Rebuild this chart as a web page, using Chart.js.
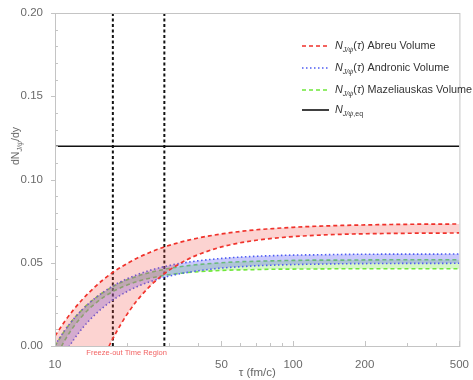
<!DOCTYPE html>
<html>
<head>
<meta charset="utf-8">
<script src="https://cdn.jsdelivr.net/npm/chart.js@4/dist/chart.umd.min.js"></script>
<style>
  body { margin: 0; background: #fff; }
  #wrap { position: relative; width: 473px; height: 380px; overflow: hidden; font-family: "Liberation Sans", Arial, sans-serif; }
  #ytitle { position: absolute; left: 16px; top: 146px; transform: translate(-50%, -50%) rotate(-90deg);
            font-size: 10.5px; color: #666; white-space: nowrap; }
  #ytitle sub { font-size: 7px; font-style: italic; }
  .lg { position: absolute; left: 302px; height: 14px; font-size: 10.8px; color: #333; white-space: nowrap; display: flex; align-items: center; }
  .lg svg { margin-right: 6px; }
  .lg sub { font-size: 7px; }
</style>
</head>
<body>
<div id="wrap">
  <canvas id="chart" width="473" height="380"></canvas>
  <div id="ytitle">dN<sub>J/ψ</sub>/dy</div>
  <div id="legend"></div>
</div>
<script>
// ---- data ----
const tau = [10, 11, 12, 13, 14, 15, 16, 17, 18, 20, 22, 25, 28, 32, 36, 40, 50, 60, 70, 80, 100, 130, 160, 200, 300, 400, 500];

const abreuHi = [0.0060, 0.0149, 0.0220, 0.0278, 0.0325, 0.0366, 0.0400, 0.0429, 0.0454, 0.0494, 0.0526, 0.0562, 0.0589, 0.0615, 0.0634, 0.0649, 0.0673, 0.0688, 0.0698, 0.0704, 0.0713, 0.0720, 0.0724, 0.0727, 0.0731, 0.0732, 0.0733];
const abreuLo = [-0.1175, -0.0865, -0.0630, -0.0442, -0.0296, -0.0173, -0.0075, 0.0009, 0.0077, 0.0187, 0.0269, 0.0358, 0.0421, 0.0479, 0.0520, 0.0549, 0.0595, 0.0620, 0.0635, 0.0645, 0.0657, 0.0666, 0.0671, 0.0674, 0.0677, 0.0678, 0.0679];

const andronicHi = [0.0006, 0.0095, 0.0164, 0.0218, 0.0261, 0.0296, 0.0325, 0.0350, 0.0371, 0.0403, 0.0427, 0.0454, 0.0473, 0.0491, 0.0503, 0.0512, 0.0526, 0.0534, 0.0539, 0.0542, 0.0546, 0.0548, 0.0550, 0.0551, 0.0552, 0.0552, 0.0553];
const andronicLo = [-0.0153, -0.0044, 0.0039, 0.0105, 0.0157, 0.0199, 0.0234, 0.0263, 0.0288, 0.0326, 0.0355, 0.0386, 0.0408, 0.0428, 0.0442, 0.0452, 0.0468, 0.0476, 0.0482, 0.0485, 0.0489, 0.0492, 0.0494, 0.0495, 0.0496, 0.0496, 0.0497];

const mazelHi = [0.0000, 0.0093, 0.0164, 0.0218, 0.0261, 0.0295, 0.0323, 0.0346, 0.0366, 0.0396, 0.0418, 0.0441, 0.0457, 0.0472, 0.0482, 0.0489, 0.0500, 0.0506, 0.0509, 0.0511, 0.0514, 0.0516, 0.0516, 0.0517, 0.0518, 0.0518, 0.0518];
const mazelLo = [-0.0078, 0.0035, 0.0118, 0.0179, 0.0227, 0.0263, 0.0293, 0.0317, 0.0336, 0.0365, 0.0386, 0.0407, 0.0421, 0.0433, 0.0441, 0.0446, 0.0454, 0.0457, 0.0459, 0.0461, 0.0462, 0.0463, 0.0464, 0.0464, 0.0464, 0.0464, 0.0464];

const eqTau = [10, 500];
const eqValue = 0.12;
const freezeOut = [17.5, 28.8];
const freezeLabelAt = 20;

const xTicks = [10, 20, 30, 40, 50, 60, 70, 80, 90, 100, 200, 300, 400, 500];
const xLabels = [10, 50, 100, 200, 500];
const yTicks = [0, 0.01, 0.02, 0.03, 0.04, 0.05, 0.06, 0.07, 0.08, 0.09, 0.10, 0.11, 0.12, 0.13, 0.14, 0.15, 0.16, 0.17, 0.18, 0.19, 0.20];

// ---- helpers ----
const pts = arr => tau.map((t, i) => ({ x: t, y: arr[i] }));
const isMajorY = v => Math.abs(v * 20 - Math.round(v * 20)) < 1e-9;

const RED = '#f0312a', BLUE = '#4d5cf2', GREEN = '#6ee83a';

function band(data, color, dash, width, fill, bg) {
    return {
        data: pts(data), borderColor: color, borderDash: dash, borderWidth: width,
        pointRadius: 0, cubicInterpolationMode: 'monotone',
        fill: fill, backgroundColor: bg
    };
}

const datasets = [
    band(abreuHi, RED, [4, 3], 1.7, '+1', 'rgba(245,80,70,0.25)'),
    band(abreuLo, RED, [4, 3], 1.7, false, 'transparent'),
    band(andronicHi, BLUE, [1.5, 2.5], 1.6, '+1', 'rgba(100,100,245,0.35)'),
    band(andronicLo, BLUE, [1.5, 2.5], 1.6, false, 'transparent'),
    band(mazelHi, GREEN, [4, 3], 1.6, '+1', 'rgba(120,230,70,0.3)'),
    band(mazelLo, GREEN, [4, 3], 1.6, false, 'transparent'),
    {
        data: eqTau.map(t => ({ x: t, y: eqValue })), borderColor: '#111', borderWidth: 1.6,
        pointRadius: 0, fill: false
    }
];
freezeOut.forEach(f => datasets.push({
    data: [{ x: f, y: 0 }, { x: f, y: 0.2 }], borderColor: '#111', borderWidth: 2,
    borderDash: [3, 2.5], pointRadius: 0, fill: false
}));

// frame, tick marks and the freeze-out caption
const frameTicks = {
    id: 'frameTicks',
    afterDraw(chart) {
        const { ctx, chartArea: a, scales: { x, y } } = chart;
        ctx.save();
        ctx.strokeStyle = '#c4c4c4';
        ctx.lineWidth = 1;
        ctx.strokeRect(a.left + 0.5, a.top + 0.5, a.right - a.left, a.bottom - a.top);
        ctx.beginPath();
        yTicks.forEach(v => {
            const py = Math.round(y.getPixelForValue(v)) + 0.5;
            if (isMajorY(v)) { ctx.moveTo(a.left - 4, py); ctx.lineTo(a.left, py); }
            else { ctx.moveTo(a.left, py); ctx.lineTo(a.left + 3, py); }
        });
        xTicks.forEach(v => {
            const px = Math.round(x.getPixelForValue(v)) + 0.5;
            const len = xLabels.includes(v) ? 5 : 3;
            ctx.moveTo(px, a.bottom); ctx.lineTo(px, a.bottom - len);
        });
        ctx.stroke();
        ctx.fillStyle = '#f26464';
        ctx.font = '7.5px "Liberation Sans", Arial, sans-serif';
        ctx.textAlign = 'center';
        ctx.textBaseline = 'middle';
        ctx.fillText('Freeze-out Time Region', x.getPixelForValue(freezeLabelAt), a.bottom + 7);
        ctx.restore();
    }
};

const tickFont = { family: '"Liberation Sans", Arial, sans-serif', size: 11.5 };

new Chart(document.getElementById('chart'), {
    type: 'line',
    data: { datasets },
    options: {
        responsive: false,
        animation: false,
        devicePixelRatio: 1,
        layout: { padding: { left: 0, right: 11, top: 13, bottom: 0 } },
        plugins: { legend: { display: false }, tooltip: { enabled: false } },
        scales: {
            x: {
                type: 'logarithmic', min: 10, max: 500,
                afterBuildTicks: s => { s.ticks = xTicks.map(v => ({ value: v })); },
                afterFit: s => { s.height = 34; },
                grid: { display: false },
                border: { display: false },
                ticks: {
                    autoSkip: false, maxRotation: 0, padding: 4, color: '#6a6a6a', font: tickFont,
                    callback: v => xLabels.includes(v) ? String(v) : ''
                },
                title: {
                    display: true, text: 'τ (fm/c)', color: '#666',
                    font: { family: '"Liberation Sans", Arial, sans-serif', size: 11.5 },
                    padding: { top: 0, bottom: 0 }
                }
            },
            y: {
                min: 0, max: 0.2,
                afterBuildTicks: s => { s.ticks = yTicks.map(v => ({ value: v })); },
                afterFit: s => { s.width = 55; },
                grid: { display: false },
                border: { display: false },
                ticks: {
                    autoSkip: false, padding: 4, color: '#6a6a6a', font: tickFont,
                    callback: v => isMajorY(v) ? v.toFixed(2) : ''
                }
            }
        }
    },
    plugins: [frameTicks]
});

// ---- legend (html, for the subscripts) ----
const legendRows = [
    { top: 46, color: RED, dash: '4 3', label: '<i>N</i><sub><i>J/ψ</i></sub>(<i>τ</i>) Abreu Volume' },
    { top: 68, color: BLUE, dash: '1.5 2.5', label: '<i>N</i><sub><i>J/ψ</i></sub>(<i>τ</i>) Andronic Volume' },
    { top: 90, color: GREEN, dash: '4 3', label: '<i>N</i><sub><i>J/ψ</i></sub>(<i>τ</i>) Mazeliauskas Volume' },
    { top: 110, color: '#111', dash: '', label: '<i>N</i><sub><i>J/ψ</i>,eq</sub>' }
];
document.getElementById('legend').innerHTML = legendRows.map(r =>
    `<div class="lg" style="top:${r.top - 7}px"><svg width="27" height="4"><line x1="0" y1="2" x2="27" y2="2" stroke="${r.color}" stroke-width="1.6" ${r.dash ? `stroke-dasharray="${r.dash}"` : ''}/></svg><span>${r.label}</span></div>`
).join('');
</script>
</body>
</html>
